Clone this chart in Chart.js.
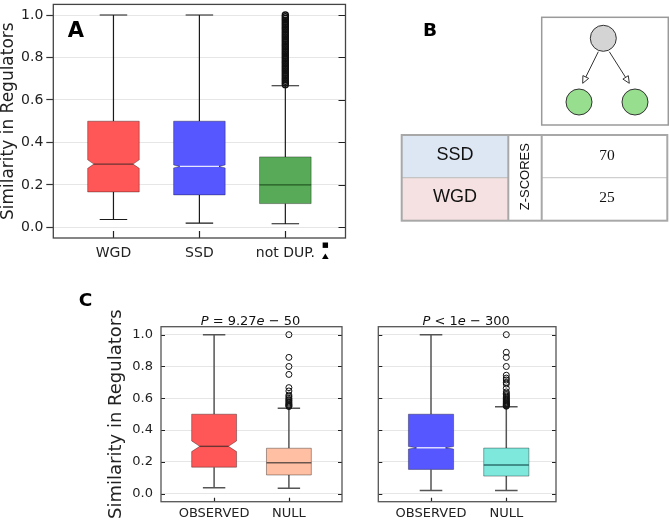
<!DOCTYPE html>
<html><head><meta charset="utf-8">
<script src="https://cdn.jsdelivr.net/npm/chart.js@4.4.1/dist/chart.umd.min.js"></script>
<style>
html,body{margin:0;padding:0;background:#fff;}
#fig{position:relative;width:669px;height:522px;overflow:hidden;background:#fff;}
canvas{position:absolute;}
#ov{position:absolute;left:0;top:0;pointer-events:none;}
</style></head>
<body>
<div id="fig">
<canvas id="cA" width="350" height="270" style="left:0;top:0"></canvas>
<canvas id="cC1" width="250" height="217" style="left:96px;top:305px"></canvas>
<canvas id="cC2" width="205" height="217" style="left:360px;top:305px"></canvas>
<svg id="ov" width="669" height="522" xmlns="http://www.w3.org/2000/svg"></svg>
</div>
<script>
// ---------- data ----------
const yTicks = [0, 0.2, 0.4, 0.6, 0.8, 1.0];
const yMin = -0.05, yMax = 1.05;
const yTitle = 'Similarity in Regulators';

// Panel A
const catsA = ['WGD', 'SSD', 'not DUP.'];
const lowA = [0.037, 0.020, 0.017];
const q1A = [0.167, 0.153, 0.112];
const medA = [0.298, 0.287, 0.200];
const q3A = [0.500, 0.500, 0.332];
const highA = [1.0, 1.0, 0.667];
const notchLoA = [0.278, 0.280, 0.200];
const notchHiA = [0.318, 0.294, 0.200];
const outliersNotDup = [0.672,0.68,0.688,0.696,0.704,0.712,0.72,0.728,0.736,0.744,0.752,0.76,0.768,0.776,0.784,0.792,0.8,0.808,0.816,0.824,0.832,0.84,0.848,0.856,0.864,0.872,0.88,0.888,0.896,0.904,0.912,0.92,0.928,0.936,0.944,0.952,0.96,0.968,0.976,0.984,0.992,1.0];

// Panel C
const catsC = ['OBSERVED', 'NULL'];
const lowC1 = [0.038, 0.034];
const q1C1 = [0.167, 0.118];
const medC1 = [0.298, 0.195];
const q3C1 = [0.500, 0.286];
const highC1 = [1.0, 0.537];
const notchLoC1 = [0.265, 0.195];
const notchHiC1 = [0.332, 0.195];
const outliersNullC1 = [0.548,0.553,0.558,0.563,0.57,0.577,0.585,0.592,0.6,0.61,0.62,0.646,0.667,0.75,0.8,0.857,1.0];

const lowC2 = [0.021, 0.021];
const q1C2 = [0.153, 0.111];
const medC2 = [0.289, 0.181];
const q3C2 = [0.500, 0.287];
const highC2 = [1.0, 0.547];
const notchLoC2 = [0.281, 0.181];
const notchHiC2 = [0.297, 0.181];
const outliersNullC2 = [0.55,0.553,0.556,0.56,0.564,0.568,0.572,0.577,0.582,0.588,0.594,0.6,0.607,0.614,0.622,0.63,0.64,0.663,0.69,0.7,0.715,0.727,0.745,0.8,0.857,0.889,1.0];

const titleC1 = [['P', true], [' = 9.27', false], ['e', true], [' \u2212 50', false]];
const titleC2 = [['P', true], [' < 1', false], ['e', true], [' \u2212 300', false]];

// Panel B
const tableRows = ['SSD', 'WGD'];
const zScores = [70, 25];
const zHeader = 'Z-SCORES';

// ---------- helpers ----------
Chart.defaults.font.family = 'DejaVu Sans';
Chart.defaults.color = '#222';

function boxPlugin(c) {
  return {
    id: 'boxes',
    beforeDatasetsDraw(chart) {
      const {ctx, scales: {x, y}} = chart;
      ctx.save();
      c.low.forEach((_, i) => {
        const p = i;
        const xc = x.getPixelForValue(p);
        const xL = x.getPixelForValue(p - c.half), xR = x.getPixelForValue(p + c.half);
        const xCL = x.getPixelForValue(p - c.cap), xCR = x.getPixelForValue(p + c.cap);
        const yLo = y.getPixelForValue(c.low[i]), yQ1 = y.getPixelForValue(c.q1[i]);
        const yMed = y.getPixelForValue(c.med[i]), yQ3 = y.getPixelForValue(c.q3[i]);
        const yHi = y.getPixelForValue(c.high[i]);
        const yNlo = y.getPixelForValue(c.nlo[i]), yNhi = y.getPixelForValue(c.nhi[i]);
        ctx.strokeStyle = c.whisker; ctx.lineWidth = c.whiskerW;
        ctx.beginPath();
        ctx.moveTo(xc, yQ3); ctx.lineTo(xc, yHi);
        ctx.moveTo(xc, yQ1); ctx.lineTo(xc, yLo);
        ctx.moveTo(xCL, yHi); ctx.lineTo(xCR, yHi);
        ctx.moveTo(xCL, yLo); ctx.lineTo(xCR, yLo);
        ctx.stroke();
        const ins = (c.nhi[i] > c.nlo[i]) ? (xR - xL) * c.inset : 0;
        ctx.beginPath();
        ctx.moveTo(xL, yQ1); ctx.lineTo(xL, yNlo); ctx.lineTo(xL + ins, yMed); ctx.lineTo(xL, yNhi); ctx.lineTo(xL, yQ3);
        ctx.lineTo(xR, yQ3); ctx.lineTo(xR, yNhi); ctx.lineTo(xR - ins, yMed); ctx.lineTo(xR, yNlo); ctx.lineTo(xR, yQ1);
        ctx.closePath();
        ctx.fillStyle = c.fill[i]; ctx.fill();
        ctx.strokeStyle = c.edge; ctx.lineWidth = 1; ctx.stroke();
        ctx.strokeStyle = c.medColor[i]; ctx.lineWidth = c.medW;
        ctx.beginPath(); ctx.moveTo(xL + ins, yMed); ctx.lineTo(xR - ins, yMed); ctx.stroke();
      });
      ctx.restore();
    }
  };
}

function framePlugin(f) {
  return {
    id: 'frame',
    afterDatasetsDraw(chart) {
      const {ctx, chartArea: a, scales: {x, y}} = chart;
      ctx.save();
      ctx.strokeStyle = f.tickColor; ctx.lineWidth = 1.2;
      ctx.beginPath();
      yTicks.forEach(v => {
        const py = Math.round(y.getPixelForValue(v)) + 0.5;
        if (f.leftIn) { ctx.moveTo(a.left, py); ctx.lineTo(a.left + f.len, py); }
        if (f.rightIn) { ctx.moveTo(a.right, py); ctx.lineTo(a.right - f.len, py); }
      });
      f.cats.forEach((_, i) => {
        const px = Math.round(x.getPixelForValue(i)) + 0.5;
        ctx.moveTo(px, a.bottom); ctx.lineTo(px, a.bottom - f.len);
      });
      ctx.stroke();
      ctx.strokeStyle = f.color; ctx.lineWidth = f.width;
      ctx.strokeRect(a.left, a.top, a.right - a.left, a.bottom - a.top);
      ctx.restore();
    }
  };
}

function titlePlugin(segs) {
  return {
    id: 'mtitle',
    afterDraw(chart) {
      const {ctx, chartArea: a} = chart;
      ctx.save();
      const fonts = segs.map(s => (s[1] ? 'italic ' : '') + '13px "DejaVu Sans"');
      let w = 0;
      segs.forEach((s, i) => { ctx.font = fonts[i]; w += ctx.measureText(s[0]).width; });
      let xx = (a.left + a.right) / 2 - w / 2 - 1;
      ctx.fillStyle = '#111'; ctx.textBaseline = 'alphabetic'; ctx.textAlign = 'left';
      segs.forEach((s, i) => { ctx.font = fonts[i]; ctx.fillText(s[0], xx, a.top - 1.5); xx += ctx.measureText(s[0]).width; });
      ctx.restore();
    }
  };
}

const markerPlugin = {
  id: 'markers',
  afterDraw(chart) {
    const {ctx, chartArea: a, scales: {x}} = chart;
    const px = x.getPixelForValue(2) + 40;
    ctx.save();
    ctx.fillStyle = '#000';
    ctx.fillRect(px - 2.7, a.bottom + 4.5, 5.4, 5.4);
    ctx.beginPath();
    ctx.moveTo(px, a.bottom + 15.5); ctx.lineTo(px + 3.3, a.bottom + 21); ctx.lineTo(px - 3.3, a.bottom + 21); ctx.closePath();
    ctx.fill();
    ctx.restore();
  }
};

function yScale(opt) {
  return {
    type: 'linear', min: yMin, max: yMax,
    afterBuildTicks: s => { s.ticks = yTicks.map(v => ({value: v})); },
    afterFit: s => { s.width = opt.width; s.paddingTop = 0; s.paddingBottom = 0; s.paddingLeft = 0; s.paddingRight = 0; },
    ticks: { display: opt.labels, font: {family: 'DejaVu Sans', size: opt.fs}, color: '#222', padding: opt.pad, callback: v => v.toFixed(1) },
    grid: { color: '#e6e6e6', lineWidth: 1, drawTicks: opt.outTicks, tickLength: 7, tickColor: '#333', tickWidth: 1.2 },
    border: { display: false },
    title: { display: opt.title, text: yTitle, color: '#222', font: {family: 'DejaVu Sans', size: opt.tfs, lineHeight: 1}, padding: {top: opt.tpad, bottom: 0} }
  };
}
function xScale(cats, min, max, h, fs, pad) {
  return {
    type: 'linear', min: min, max: max,
    afterBuildTicks: s => { s.ticks = cats.map((c, i) => ({value: i})); },
    afterFit: s => { s.height = h; s.paddingLeft = 0; s.paddingRight = 0; s.paddingTop = 0; s.paddingBottom = 0; },
    ticks: { font: {family: 'DejaVu Sans', size: fs}, color: '#222', padding: pad, autoSkip: false, maxRotation: 0, minRotation: 0, callback: (v, i) => cats[i] },
    grid: { display: false, drawTicks: false },
    border: { display: false }
  };
}
function outlierSet(vals, pos) {
  return { type: 'scatter', data: vals.map(v => ({x: pos, y: v})), pointRadius: 3, pointBorderWidth: 1, pointBorderColor: '#111', pointBackgroundColor: 'rgba(255,255,255,0)', pointHoverRadius: 3 };
}
const common = { responsive: false, animation: false, devicePixelRatio: 1, events: [] };

// ---------- Panel A ----------
const dA = outlierSet(outliersNotDup, 2);
dA.pointBorderWidth = 1.4;
new Chart(document.getElementById('cA'), {
  type: 'scatter',
  data: { datasets: [dA] },
  options: Object.assign({}, common, {
    layout: { padding: {left: 0, top: 1, right: 4.5, bottom: 0} },
    plugins: { legend: {display: false}, tooltip: {enabled: false} },
    scales: {
      x: xScale(catsA, -0.7, 2.7, 32, 14, 7),
      y: yScale({width: 53.3, labels: true, fs: 14, pad: 3, outTicks: true, title: true, tfs: 17, tpad: 0})
    }
  }),
  plugins: [
    boxPlugin({low: lowA, q1: q1A, med: medA, q3: q3A, high: highA, nlo: notchLoA, nhi: notchHiA,
      half: 0.3, cap: 0.16, inset: 0.12, whisker: '#1a1a1a', whiskerW: 1.2, edge: 'rgba(0,0,0,0.35)', medW: 1.3,
      fill: ['#ff5757', '#5757ff', '#58aa58'], medColor: ['rgba(60,40,40,0.75)', 'rgba(255,255,255,0.85)', 'rgba(30,80,30,0.9)']}),
    framePlugin({cats: catsA, leftIn: false, rightIn: true, len: 7, color: '#444', width: 1.3, tickColor: '#222'}),
    markerPlugin
  ]
});

// ---------- Panel C left ----------
new Chart(document.getElementById('cC1'), {
  type: 'scatter',
  data: { datasets: [outlierSet(outliersNullC1, 1)] },
  options: Object.assign({}, common, {
    layout: { padding: {left: 0, top: 21.7, right: 3.7, bottom: 0} },
    plugins: { legend: {display: false}, tooltip: {enabled: false} },
    scales: {
      x: xScale(catsC, -0.71, 1.71, 20.3, 13, 4.5),
      y: yScale({width: 65, labels: true, fs: 13, pad: 8, outTicks: false, title: true, tfs: 18, tpad: 11})
    }
  }),
  plugins: [
    boxPlugin({low: lowC1, q1: q1C1, med: medC1, q3: q3C1, high: highC1, nlo: notchLoC1, nhi: notchHiC1,
      half: 0.3, cap: 0.15, inset: 0.18, whisker: '#555', whiskerW: 1.5, edge: 'rgba(0,0,0,0.35)', medW: 1.4,
      fill: ['#ff5757', '#ffbfa3'], medColor: ['rgba(60,40,40,0.75)', 'rgba(70,60,55,0.8)']}),
    framePlugin({cats: catsC, leftIn: true, rightIn: true, len: 4, color: '#555', width: 1.3, tickColor: '#222'}),
    titlePlugin(titleC1)
  ]
});

// ---------- Panel C right ----------
new Chart(document.getElementById('cC2'), {
  type: 'scatter',
  data: { datasets: [outlierSet(outliersNullC2, 1)] },
  options: Object.assign({}, common, {
    layout: { padding: {left: 18.3, top: 21.7, right: 9, bottom: 0} },
    plugins: { legend: {display: false}, tooltip: {enabled: false} },
    scales: {
      x: xScale(catsC, -0.7, 1.66, 20.3, 13, 4.5),
      y: yScale({width: 0, labels: false, fs: 13, pad: 8, outTicks: false, title: false, tfs: 18, tpad: 0})
    }
  }),
  plugins: [
    boxPlugin({low: lowC2, q1: q1C2, med: medC2, q3: q3C2, high: highC2, nlo: notchLoC2, nhi: notchHiC2,
      half: 0.3, cap: 0.15, inset: 0.18, whisker: '#555', whiskerW: 1.5, edge: 'rgba(0,0,0,0.35)', medW: 1.4,
      fill: ['#5757ff', '#7ee8dd'], medColor: ['rgba(255,255,255,0.85)', 'rgba(30,90,90,0.85)']}),
    framePlugin({cats: catsC, leftIn: true, rightIn: true, len: 4, color: '#555', width: 1.3, tickColor: '#222'}),
    titlePlugin(titleC2)
  ]
});

// ---------- Overlay: panel letters + panel B ----------
const NS = 'http://www.w3.org/2000/svg';
const ov = document.getElementById('ov');
function el(tag, attrs, text) {
  const e = document.createElementNS(NS, tag);
  for (const k in attrs) e.setAttribute(k, attrs[k]);
  if (text !== undefined) e.textContent = text;
  ov.appendChild(e);
  return e;
}
el('text', {x: 76, y: 36.6, 'font-family': 'DejaVu Sans', 'font-weight': 'bold', 'font-size': 21, 'text-anchor': 'middle', fill: '#000'}, 'A');
el('text', {x: 430, y: 36, 'font-family': 'DejaVu Sans', 'font-weight': 'bold', 'font-size': 18.5, 'text-anchor': 'middle', fill: '#000'}, 'B');
el('text', {x: 85.5, y: 305.5, 'font-family': 'DejaVu Sans', 'font-weight': 'bold', 'font-size': 18.5, 'text-anchor': 'middle', fill: '#000'}, 'C');

// diagram
el('rect', {x: 541.7, y: 17.3, width: 126.6, height: 107.7, fill: '#fff', stroke: '#9a9a9a', 'stroke-width': 1.5});
el('line', {x1: 598.3, y1: 51.7, x2: 585.8, y2: 77.0, stroke: '#333', 'stroke-width': 1});
el('polygon', {points: '582.7,83.3 588.7,78.4 582.9,75.6', fill: '#fff', stroke: '#333', 'stroke-width': 1});
el('line', {x1: 609.3, y1: 51.7, x2: 625.6, y2: 77.4, stroke: '#333', 'stroke-width': 1});
el('polygon', {points: '629.3,83.3 622.9,79.1 628.3,75.7', fill: '#fff', stroke: '#333', 'stroke-width': 1});
el('circle', {cx: 603.3, cy: 38.3, r: 13, fill: '#d4d4d4', stroke: '#333', 'stroke-width': 1});
el('circle', {cx: 579, cy: 102, r: 13, fill: '#97df8f', stroke: '#333', 'stroke-width': 1});
el('circle', {cx: 635, cy: 102, r: 13, fill: '#97df8f', stroke: '#333', 'stroke-width': 1});

// table
const tx0 = 401.7, tx1 = 508.3, tx2 = 541.7, tx3 = 667.3, ty0 = 135, ty1 = 177.7, ty2 = 220.7;
const rowBg = ['#dde7f4', '#f5e1e1'];
const rowY = [[ty0, ty1], [ty1, ty2]];
tableRows.forEach((r, i) => {
  el('rect', {x: tx0, y: rowY[i][0], width: tx1 - tx0, height: rowY[i][1] - rowY[i][0], fill: rowBg[i]});
});
el('line', {x1: tx0, y1: ty1, x2: tx1, y2: ty1, stroke: '#c4c4c4', 'stroke-width': 1.2});
el('line', {x1: tx2, y1: ty1, x2: tx3, y2: ty1, stroke: '#cfcfcf', 'stroke-width': 1.2});
el('rect', {x: tx0, y: ty0, width: tx3 - tx0, height: ty2 - ty0, fill: 'none', stroke: '#a8a8a8', 'stroke-width': 2});
el('line', {x1: tx1, y1: ty0, x2: tx1, y2: ty2, stroke: '#a8a8a8', 'stroke-width': 2});
el('line', {x1: tx2, y1: ty0, x2: tx2, y2: ty2, stroke: '#a8a8a8', 'stroke-width': 2});
tableRows.forEach((r, i) => {
  const base = i === 0 ? 159.5 : 201.7;
  el('text', {x: 455, y: base, 'font-family': 'Liberation Sans', 'font-size': 18, 'text-anchor': 'middle', fill: '#111'}, r);
  el('text', {x: 607, y: base, 'font-family': 'Liberation Serif', 'font-size': 15.5, 'text-anchor': 'middle', fill: '#111'}, String(zScores[i]));
});
el('text', {x: 529.3, y: 176.7, 'font-family': 'Liberation Sans', 'font-size': 13, 'text-anchor': 'middle', fill: '#111', transform: 'rotate(-90 529.3 176.7)'}, zHeader);
</script>
</body></html>
